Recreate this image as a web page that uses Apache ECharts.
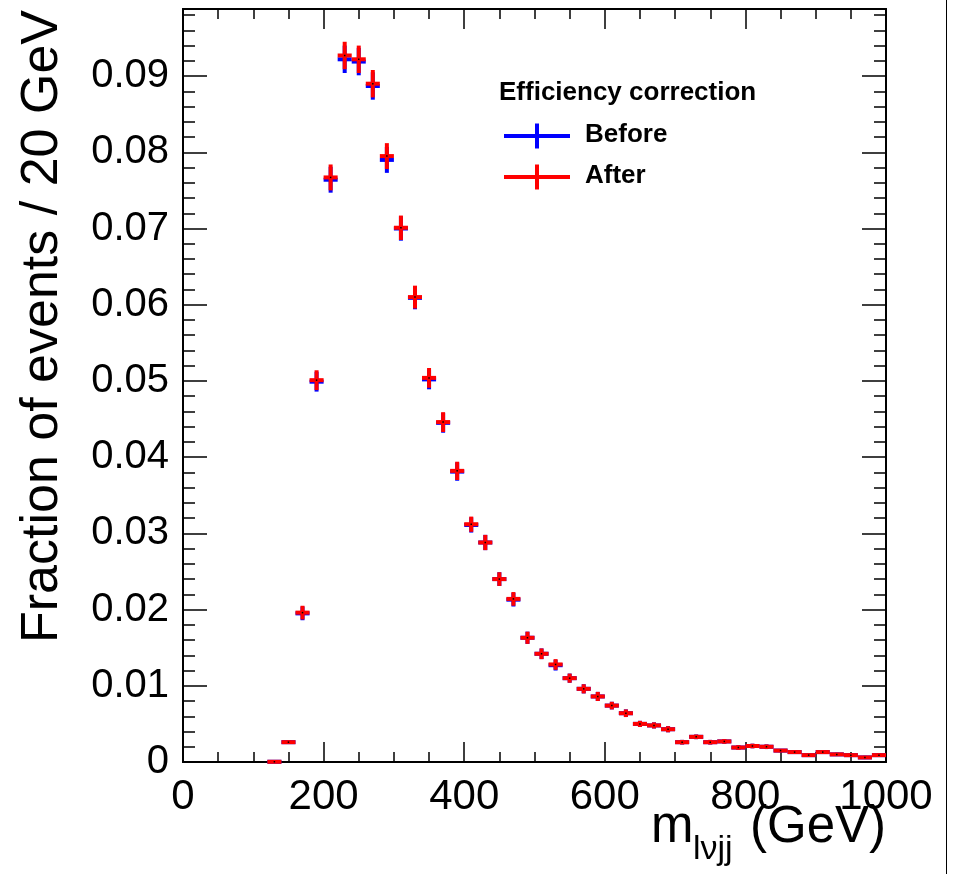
<!DOCTYPE html>
<html>
<head>
<meta charset="utf-8">
<script src="https://cdn.jsdelivr.net/npm/echarts@6/dist/echarts.min.js"></script>
<style>html,body{margin:0;padding:0;background:#fff;}#c{width:957px;height:874px;}</style>
</head>
<body>
<div id="c"></div>
<script>
// ---- data ----
const binCenters = [130,150,170,190,210,230,250,270,290,310,330,350,370,390,410,430,450,470,490,510,530,550,570,590,610,630,650,670,690,710,730,750,770,790,810,830,850,870,890,910,930,950,970,990];
const afterValues = [0.00003,0.0026,0.0196,0.0501,0.0767,0.0927,0.0922,0.0890,0.0795,0.0701,0.0610,0.0504,0.0446,0.0382,0.0312,0.0288,0.0240,0.0214,0.0163,0.0142,0.0128,0.0110,0.0096,0.0086,0.0074,0.0064,0.0050,0.0048,0.0043,0.0026,0.0033,0.0026,0.0027,0.0019,0.0021,0.0020,0.0015,0.0013,0.0009,0.0013,0.0010,0.0009,0.0006,0.0009];
const beforeValues = [0.00003,0.0026,0.0195,0.0499,0.0764,0.0922,0.0919,0.0887,0.0790,0.0700,0.0609,0.0502,0.0445,0.0381,0.0311,0.0288,0.0240,0.0213,0.0163,0.0142,0.0127,0.0110,0.0096,0.0086,0.0074,0.0064,0.0050,0.0048,0.0043,0.0026,0.0033,0.0026,0.0027,0.0019,0.0021,0.0020,0.0015,0.0013,0.0009,0.0013,0.0010,0.0009,0.0006,0.0009];
const errors = [0.0001,0.0002,0.0009,0.0013,0.0017,0.0018,0.0018,0.0018,0.0017,0.0016,0.0015,0.0013,0.0013,0.0012,0.0010,0.0010,0.0009,0.0009,0.0008,0.0007,0.0007,0.0006,0.0006,0.0006,0.0005,0.0005,0.0004,0.0004,0.0004,0.0003,0.0003,0.0003,0.0003,0.0003,0.0003,0.0003,0.0002,0.0002,0.0002,0.0002,0.0002,0.0002,0.0002,0.0002];
const binHalfWidth = 10;
const xTicks = [0,200,400,600,800,1000];
const yMax = 0.0988;

const FONT = "'Liberation Sans', Arial, Helvetica, sans-serif";

function mkData(vals){ return binCenters.map((x,i)=>[x, vals[i], errors[i]]); }

function errRender(color){
  return function(params, api){
    const x = api.value(0), y = api.value(1), e = api.value(2);
    const c = api.coord([x, y]);
    const l = api.coord([x - binHalfWidth, y]);
    const r = api.coord([x + binHalfWidth, y]);
    const t = api.coord([x, y + e]);
    const b = api.coord([x, y - e]);
    return {type:'group', children:[
      {type:'line', shape:{x1:l[0], y1:c[1], x2:r[0], y2:c[1]}, style:{stroke:color, lineWidth:4}},
      {type:'line', shape:{x1:c[0], y1:t[1], x2:c[0], y2:b[1]}, style:{stroke:color, lineWidth:4}},
      {type:'rect', shape:{x:c[0]-0.75, y:c[1]-0.75, width:1.5, height:1.5}, style:{fill:'#000'}}
    ]};
  };
}

const tickStyle = {color:'#000', width:1.5};
function xAx(pos, showLabel){
  return {type:'value', min:xTicks[0], max:xTicks[xTicks.length-1], interval:200, position:pos,
    axisLine:{show:true, onZero:false, lineStyle:{color:'#000', width:2}},
    axisTick:{show:true, inside:true, length:20, lineStyle:tickStyle},
    minorTick:{show:true, splitNumber:4, length:10, lineStyle:tickStyle},
    splitLine:{show:false}, minorSplitLine:{show:false},
    axisLabel:{show:showLabel, fontSize:42, color:'#000', fontFamily:FONT, margin:14, formatter:(v)=>String(v)}};
}
function yAx(pos, interval, len, showLabel){
  return {type:'value', min:0, max:yMax, interval:interval, position:pos,
    axisLine:{show:true, onZero:false, lineStyle:{color:'#000', width:2}},
    axisTick:{show:true, inside:true, length:len, lineStyle:tickStyle},
    splitLine:{show:false},
    axisLabel:{show:showLabel, showMaxLabel:false, fontSize:40, color:'#000', fontFamily:FONT, margin:14}};
}

const chart = echarts.init(document.getElementById('c'), null, {renderer:'canvas'});
chart.setOption({
  animation:false,
  backgroundColor:'#fff',
  grid:{left:183, right:71, top:9, bottom:112, containLabel:false},
  xAxis:[xAx('bottom', true), xAx('top', false)],
  yAxis:[yAx('left',0.01,24,true), yAx('left',0.002,12,false), yAx('right',0.01,24,false), yAx('right',0.002,12,false)],
  series:[
    {type:'custom', name:'Before', xAxisIndex:0, yAxisIndex:0, renderItem:errRender('#0000ff'), data:mkData(beforeValues), clip:false, z:2},
    {type:'custom', name:'After', xAxisIndex:0, yAxisIndex:0, renderItem:errRender('#ff0000'), data:mkData(afterValues), clip:false, z:3}
  ],
  graphic:[
    {type:'line', shape:{x1:946.5, y1:0, x2:946.5, y2:874}, style:{stroke:'#000', lineWidth:1}},
    {type:'text', x:43, y:10, rotation:Math.PI/2, style:{text:'Fraction of events / 20 GeV', font:"52px "+FONT, fill:'#000', align:'right', verticalAlign:'middle'}},
    {type:'text', x:651, y:828, style:{text:'m', font:"51px "+FONT, fill:'#000', align:'left', verticalAlign:'middle'}},
    {type:'text', x:693, y:850, style:{text:'lνjj', font:"34px "+FONT, fill:'#000', align:'left', verticalAlign:'middle'}},
    {type:'text', x:886, y:828, style:{text:'(GeV)', font:"51px "+FONT, fill:'#000', align:'right', verticalAlign:'middle'}},
    {type:'text', x:499, y:93, style:{text:'Efficiency correction', font:"bold 26px "+FONT, fill:'#000', align:'left', verticalAlign:'middle'}},
    {type:'line', shape:{x1:504, y1:136, x2:570, y2:136}, style:{stroke:'#0000ff', lineWidth:4}},
    {type:'line', shape:{x1:537, y1:123.5, x2:537, y2:148.5}, style:{stroke:'#0000ff', lineWidth:4}},
    {type:'text', x:585, y:135, style:{text:'Before', font:"bold 26px "+FONT, fill:'#000', align:'left', verticalAlign:'middle'}},
    {type:'line', shape:{x1:504, y1:177, x2:570, y2:177}, style:{stroke:'#ff0000', lineWidth:4}},
    {type:'line', shape:{x1:537, y1:164.5, x2:537, y2:189.5}, style:{stroke:'#ff0000', lineWidth:4}},
    {type:'text', x:585, y:176, style:{text:'After', font:"bold 26px "+FONT, fill:'#000', align:'left', verticalAlign:'middle'}}
  ]
});
</script>
</body>
</html>
